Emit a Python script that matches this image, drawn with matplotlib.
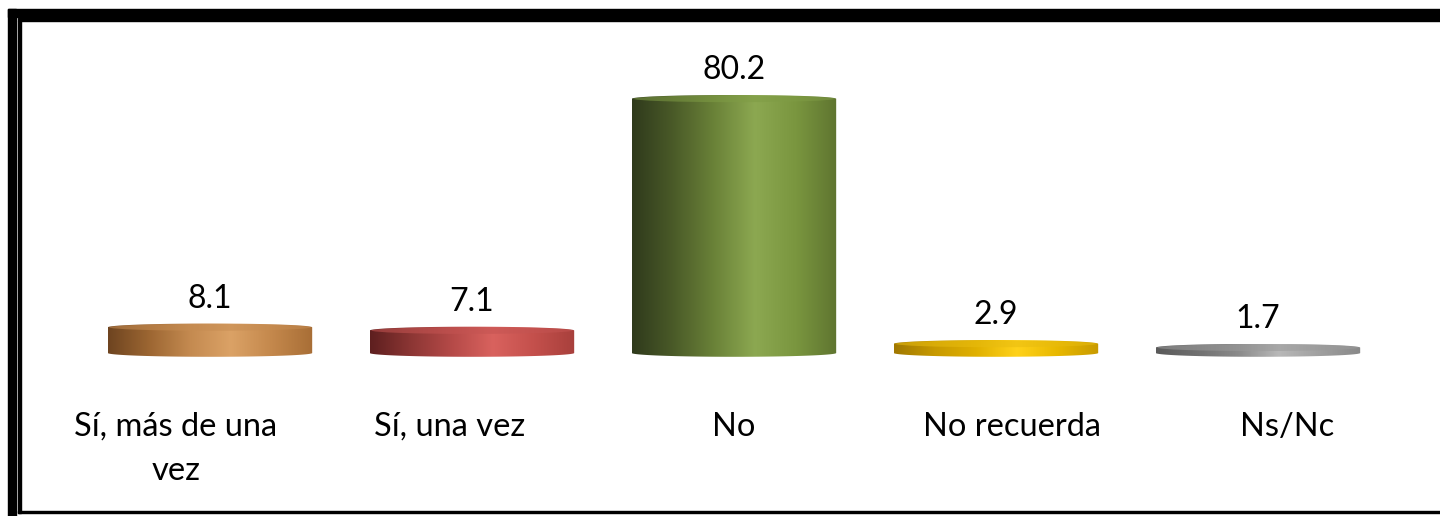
import numpy as np
import matplotlib.pyplot as plt
from matplotlib.path import Path
from matplotlib.patches import PathPatch, Ellipse, Rectangle
from matplotlib.colors import LinearSegmentedColormap

categories = ['Sí, más de una\nvez', 'Sí, una vez', 'No', 'No recuerda', 'Ns/Nc']
values = [8.1, 7.1, 80.2, 2.9, 1.7]
value_labels = ['8.1', '7.1', '80.2', '2.9', '1.7']

# dark edge -> highlight -> mid tone, per bar
bar_colors = [
    ['#6e4420', '#9c6632', '#c48a50', '#dba266', '#c4884c', '#a86e36'],
    ['#5e1f1f', '#8c3634', '#b54a48', '#d9625e', '#c4504c', '#a8403c'],
    ['#2f3a1c', '#4a5a28', '#6a8238', '#8ca851', '#7a963f', '#5f7530'],
    ['#a07800', '#c89a00', '#e0b000', '#ffd21a', '#e8b800', '#c89a00'],
    ['#5a5a5a', '#707070', '#8a8a8a', '#b8b8b8', '#a0a0a0', '#888888'],
]
top_colors = ['#c68c52', '#c45452', '#7f9c45', '#e8bc10', '#9a9a9a']

plt.rcParams['font.family'] = ['Lato', 'DejaVu Sans']

fig = plt.figure(figsize=(14.4, 5.16), dpi=100)
ax = fig.add_axes([0, 0, 1, 1])
W, H = 1440, 516

# map pixels of the original layout to data units
px_per_cat = 262.0
x0_px = 210.0
px_per_unit = 3.17
base_px = 353.0
ax.set_xlim(-x0_px / px_per_cat, (W - x0_px) / px_per_cat)
ax.set_ylim(-(H - base_px) / px_per_unit, base_px / px_per_unit)
ax.axis('off')

bw = 0.78
ry = 3.8 / px_per_unit  # half-height of the ellipses


def cylinder(xc, v, cols, top):
    t = np.linspace(0, np.pi, 60)
    left, right = xc - bw / 2, xc + bw / 2
    bot_x = xc - (bw / 2) * np.cos(t)
    bot_y = -ry * np.sin(t)
    top_x = xc + (bw / 2) * np.cos(t)
    top_y = v + ry * np.sin(t)
    verts = np.concatenate([np.column_stack([bot_x, bot_y]),
                            [[right, v]],
                            np.column_stack([top_x, top_y]),
                            [[left, 0]]])
    path = Path(verts, closed=False)
    clip = PathPatch(path, facecolor='none', edgecolor='none')
    ax.add_patch(clip)
    cmap = LinearSegmentedColormap.from_list('c', cols)
    grad = np.linspace(0, 1, 256).reshape(1, -1)
    im = ax.imshow(grad, cmap=cmap, aspect='auto',
                   extent=[left, right, -ry, v + ry], zorder=2,
                   interpolation='bilinear')
    im.set_clip_path(clip)
    ax.add_patch(Ellipse((xc, v), bw * 0.985, 2 * ry * 0.9,
                         facecolor=top, edgecolor='none', alpha=0.55, zorder=3))


for i, (v, cols, top) in enumerate(zip(values, bar_colors, top_colors)):
    cylinder(i, v, cols, top)
    ax.text(i, v + ry + 16 / px_per_unit, value_labels[i], ha='center',
            va='baseline', fontsize=23, color='black', zorder=4)

# category labels spread slightly wider than the bars
label_shift = [-0.13, -0.085, 0.0, 0.06, 0.11]
for i, lab in enumerate(categories):
    ax.text(i + label_shift[i], -(412 - base_px) / px_per_unit, lab,
            ha='center', va='top', fontsize=23.5, color='black',
            linespacing=1.6)

# double frame (cut off on the right side)
fig.patches.append(Rectangle((8 / W, 0), 8 / W, 1 - 9 / H,
                             transform=fig.transFigure, color='black'))
fig.patches.append(Rectangle((8 / W, 1 - 17 / H), 1, 8 / H,
                             transform=fig.transFigure, color='black'))
fig.patches.append(Rectangle((18 / W, 1 - 21 / H), 1, 2.5 / H,
                             transform=fig.transFigure, color='black'))
fig.patches.append(Rectangle((18 / W, 3 / H), 3 / W, 1 - 24 / H,
                             transform=fig.transFigure, color='black'))
fig.patches.append(Rectangle((18 / W, 3 / H), 1, 2.5 / H,
                             transform=fig.transFigure, color='black'))

fig.savefig('out.png', dpi=100)
